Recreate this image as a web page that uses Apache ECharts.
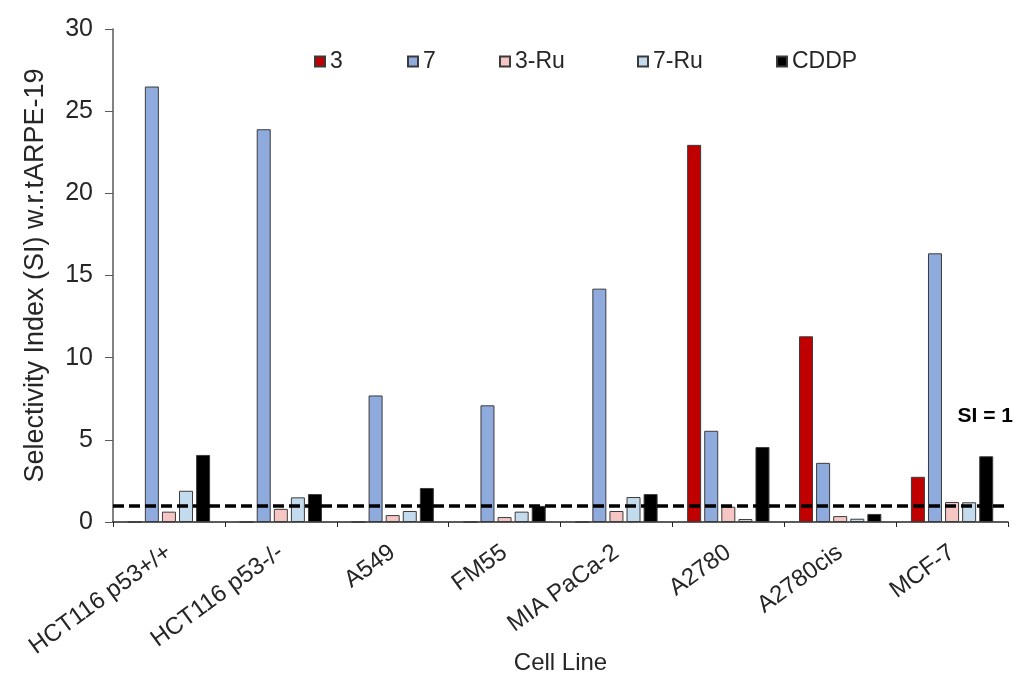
<!DOCTYPE html>
<html>
<head>
<meta charset="utf-8">
<script src="https://cdn.jsdelivr.net/npm/echarts@6/dist/echarts.min.js"></script>
<style>
  html, body { margin: 0; padding: 0; background: #fff; }
  #chart { width: 1017px; height: 686px; }
</style>
</head>
<body>
<div id="chart"></div>
<script>
const cellLines = ["HCT116 p53+/+", "HCT116 p53-/-", "A549", "FM55", "MIA PaCa-2", "A2780", "A2780cis", "MCF-7"];
const si3 = [0, 0, 0, 0, 0, 22.95, 11.3, 2.75];
const si7 = [26.5, 23.9, 7.7, 7.1, 14.2, 5.55, 3.6, 16.35];
const si3Ru = [0.63, 0.8, 0.42, 0.3, 0.67, 0.93, 0.36, 1.22];
const si7Ru = [1.9, 1.5, 0.67, 0.63, 1.52, 0.18, 0.2, 1.2];
const cddp = [4.08, 1.7, 2.07, 0.98, 1.7, 4.56, 0.49, 4.0];
const seriesNames = ["3", "7", "3-Ru", "7-Ru", "CDDP"];
const siThreshold = 1;

const font = "Liberation Sans, Arial, sans-serif";
const chart = echarts.init(document.getElementById("chart"));

const mkBar = (name, data, color) => ({
    name,
    type: "bar",
    data,
    barWidth: 14,
    barGap: "22%",
    itemStyle: { color, borderColor: "#3b3b3b", borderWidth: 1 },
});

const series = [
    mkBar(seriesNames[0], si3, "#C00000"),
    mkBar(seriesNames[1], si7, "#8FAADC"),
    mkBar(seriesNames[2], si3Ru, "#F6C6C4"),
    mkBar(seriesNames[3], si7Ru, "#C4DBEE"),
    mkBar(seriesNames[4], cddp, "#000000"),
];
// SI = 1 reference line
series[4].markLine = {
    symbol: "none",
    silent: true,
    label: { show: false },
    lineStyle: { color: "#000", width: 3.5, type: [11, 5] },
    data: [{ yAxis: siThreshold }],
};

// excel puts the legend entries at uneven spacing, so one legend per entry
const legendLeft = [309, 402, 494, 632, 771];
const legends = seriesNames.map((n, i) => ({
    top: 45,
    left: legendLeft[i],
    itemWidth: 10,
    itemHeight: 10,
    itemGap: 0,
    icon: "rect",
    textStyle: { fontSize: 23, color: "#262626", fontFamily: font },
    data: [n],
}));

chart.setOption({
    animation: false,
    textStyle: { fontFamily: font },
    grid: { left: 113, right: 9, top: 29, bottom: 164, outerBoundsMode: "none" },
    legend: legends,
    xAxis: {
        type: "category",
        data: cellLines,
        name: "Cell Line",
        nameLocation: "middle",
        nameGap: 129,
        nameMoveOverlap: false,
        nameTextStyle: { fontSize: 24, color: "#262626" },
        axisLine: { lineStyle: { color: "#262626", width: 1.5 } },
        axisTick: { show: true, length: 5, lineStyle: { color: "#262626" } },
        axisLabel: { rotate: 36, fontSize: 24, color: "#262626", margin: 28, interval: 0 },
    },
    yAxis: {
        type: "value",
        min: 0,
        max: 30,
        interval: 5,
        name: "Selectivity Index (SI) w.r.tARPE-19",
        nameLocation: "middle",
        nameGap: 64,
        nameMoveOverlap: false,
        nameTextStyle: { fontSize: 27, color: "#262626" },
        axisLine: { show: true, lineStyle: { color: "#595959", width: 1.5 } },
        axisTick: { show: true, length: 8, lineStyle: { color: "#595959" } },
        axisLabel: { fontSize: 25, color: "#262626", margin: 20 },
        splitLine: { show: false },
    },
    graphic: [{
        type: "text",
        right: 4,
        top: 406,
        style: { text: "SI = 1", fontSize: 21, fontWeight: "bold", fill: "#000", fontFamily: font },
    }],
    series,
});
</script>
</body>
</html>
